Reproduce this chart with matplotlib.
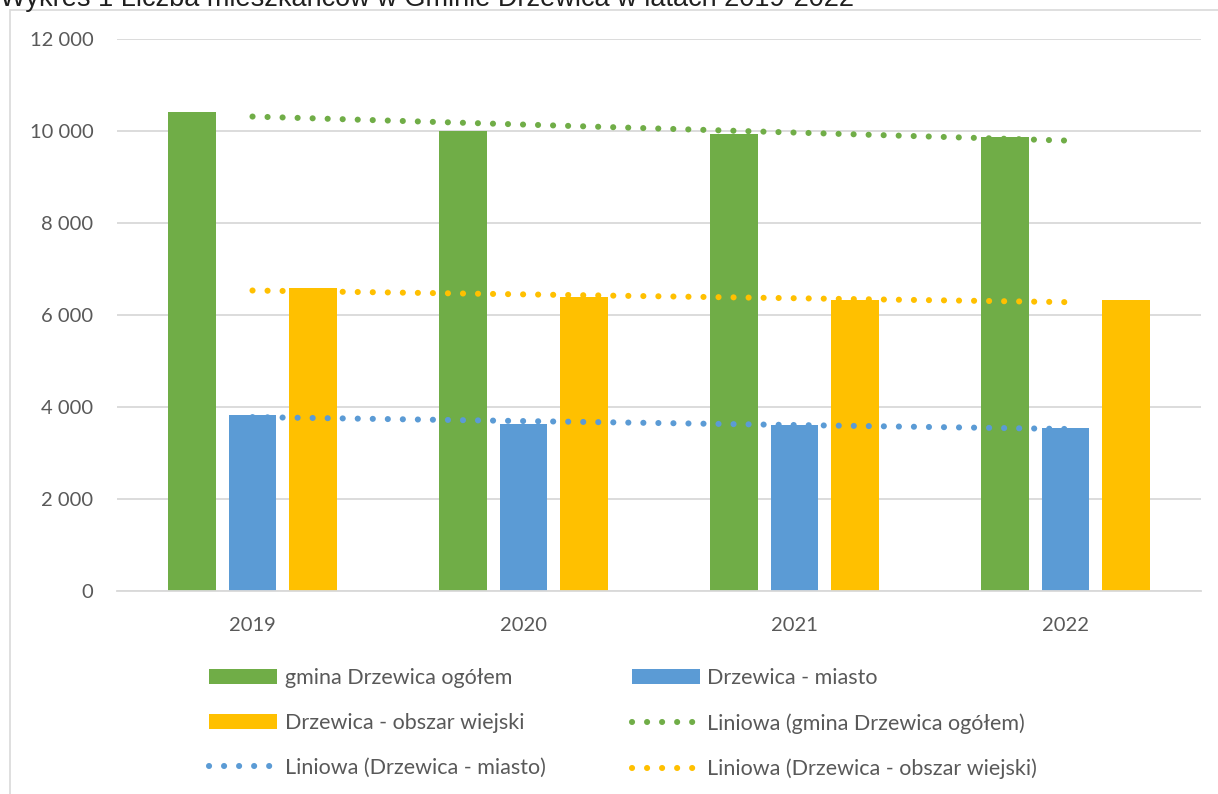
import numpy as np
import matplotlib as mpl
mpl.use("Agg")
from matplotlib import pyplot as plt
from matplotlib.patches import Rectangle

# dane: liczba mieszkańców
lata = ["2019", "2020", "2021", "2022"]
gmina = [10410, 10000, 9920, 9857]
miasto = [3820, 3620, 3600, 3540]
wies = [6580, 6380, 6320, 6320]

nazwy = ["gmina Drzewica ogółem", "Drzewica - miasto", "Drzewica - obszar wiejski"]
kolory = ["#70AD47", "#5B9BD5", "#FFC000"]

plt.rcParams['font.family'] = ['Lato', 'DejaVu Sans']
szary = "#595959"

W, H = 1218, 794
fig = plt.figure(figsize=(W / 100, H / 100), dpi=100)
ax = fig.add_axes([117 / W, 1 - 590.7 / H, (1201 - 117) / W, (590.7 - 38.7) / H])

# ramka wykresu
fig.patches.append(Rectangle((10 / W, -0.1), 1.2, 1 - 10 / H + 0.1, transform=fig.transFigure,
                             fill=False, edgecolor="#D9D9D9", linewidth=1.2))
# tytuł (ucięty u góry)
fig.text(0, 1 - 6.5 / H, "Wykres 1 Liczba mieszkańców w Gminie Drzewica w latach 2019-2022",
         family="Liberation Sans", fontsize=19.5, color="#202020", va="baseline", ha="left")

x = np.arange(len(lata))
szer = 0.177
krok = 0.223
serie = [gmina, miasto, wies]
slupki = []
for i, dane in enumerate(serie):
    b = ax.bar(x + (i - 1) * krok, dane, width=szer, color=kolory[i], label=nazwy[i], zorder=2)
    slupki.append(b)

# linie trendu (liniowe)
trendy = []
xx = np.array([x[0], x[-1]], dtype=float)
for i, dane in enumerate(serie):
    a, c = np.polyfit(x, dane, 1)
    l, = ax.plot(xx, a * xx + c, color=kolory[i], linewidth=4.4,
                 linestyle=(0, (0.01, 2.45)), dash_capstyle="round", zorder=3,
                 label="Liniowa (" + nazwy[i] + ")")
    trendy.append(l)

ax.set_xlim(-0.5, 3.5)
ax.set_ylim(0, 12000)
ax.set_yticks(range(0, 12001, 2000))
ax.set_yticklabels(["{:,}".format(v).replace(",", " ") for v in range(0, 12001, 2000)])
ax.set_xticks(x)
ax.set_xticklabels(lata)
ax.tick_params(axis="both", length=0, labelsize=14.5, labelcolor=szary)
ax.tick_params(axis="y", pad=17)
ax.tick_params(axis="x", pad=19)
ax.grid(axis="y", color="#D9D9D9", linewidth=1.3, zorder=0)
ax.set_axisbelow(True)
for s in ["top", "right", "left"]:
    ax.spines[s].set_visible(False)
ax.spines["bottom"].set_color("#D9D9D9")
ax.spines["bottom"].set_linewidth(1.3)

uchwyty = [slupki[0], slupki[2], trendy[1], slupki[1], trendy[0], trendy[2]]
etykiety = [h.get_label() for h in uchwyty]
leg = fig.legend(uchwyty, etykiety, ncol=2, loc="upper left",
                 bbox_to_anchor=(190 / W, 1 - 649 / H), frameon=False,
                 fontsize=15.5, handlelength=3.16, handleheight=0.7, handletextpad=0.33,
                 columnspacing=4.02, labelspacing=1.15)
for t in leg.get_texts():
    t.set_color(szary)

fig.savefig("out.png", dpi=100)
